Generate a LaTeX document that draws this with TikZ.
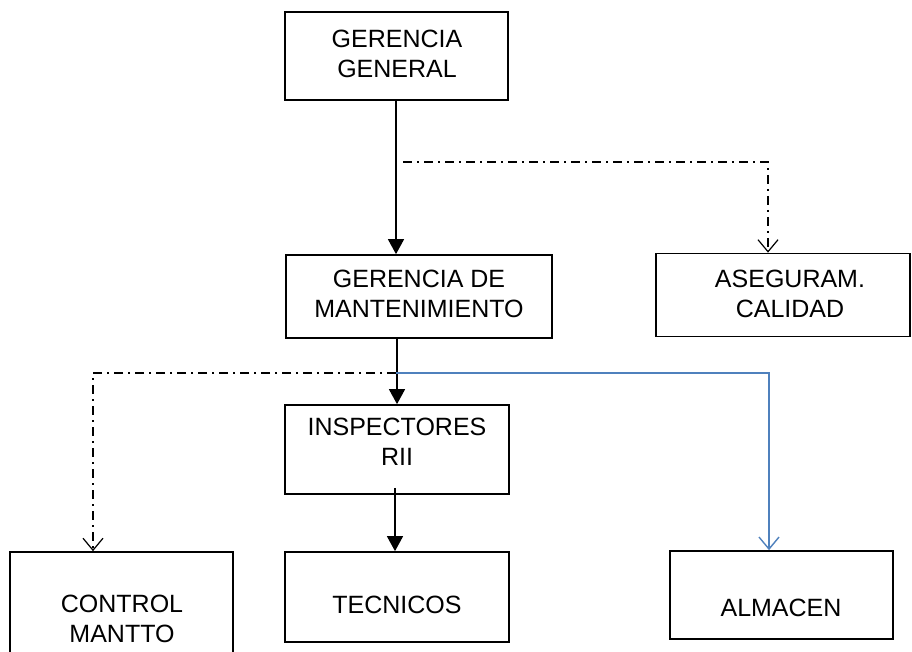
\documentclass[tikz,border=0pt]{standalone}
\usepackage{fontspec}
\setmainfont{Liberation Sans}
\usetikzlibrary{arrows.meta}
\definecolor{lineblue}{RGB}{79,129,189}
\begin{document}
\begin{tikzpicture}[x=1pt,y=-1pt,
  box/.style={draw=black,line width=1.7pt,rectangle,inner sep=0pt},
  lbl/.style={align=center,font=\fontsize{25}{29.5}\selectfont,inner sep=0pt},
  solidarr/.style={draw=black,line width=1.4pt,-{Triangle[width=16pt,length=15pt]}},
  dasharr/.style={draw=black,line width=1.3pt,dash pattern=on 9pt off 5pt on 2pt off 5pt,-{Straight Barb[width=20pt,length=12pt,line width=1.2pt]}},
  bluearr/.style={draw=lineblue,line width=1.4pt,-{Straight Barb[width=20pt,length=12pt,line width=1.4pt]}}
]
\useasboundingbox (0,0) rectangle (912,652);
\fill[white] (0,0) rectangle (912,652);
% boxes
\node[box,minimum width=223pt,minimum height=88pt] (gg) at (396.5,56) {};
\node[lbl] (ggt) at (397,54) {GERENCIA\\GENERAL};
\node[box,minimum width=266pt,minimum height=83pt] (gm) at (419,296.5) {};
\node[lbl] (gmt) at (419,294) {GERENCIA DE\\MANTENIMIENTO};
\node[box,minimum width=254pt,minimum height=83pt] (ac) at (783,295) {};
\node[lbl] (act) at (790,294) {ASEGURAM.\\CALIDAD};
\node[box,minimum width=224pt,minimum height=89pt] (ins) at (397,449.5) {};
\node[lbl] (inst) at (397,442) {INSPECTORES\\RII};
\node[box,minimum width=223pt,minimum height=120pt] (cm) at (121.5,612) {};
\node[lbl] (cmt) at (122,619) {CONTROL\\MANTTO};
\node[box,minimum width=224pt,minimum height=90pt] (tec) at (397,597) {};
\node[lbl] (tect) at (397,605) {TECNICOS};
\node[box,minimum width=223pt,minimum height=88pt] (alm) at (781.5,595) {};
\node[lbl] (almt) at (781,608) {ALMACEN};
% junction coordinates
\coordinate (j1) at (403,162);
\coordinate (j1r) at (768,162);
\coordinate (j2) at (396,373);
\coordinate (j2l) at (93,373);
\coordinate (j2r) at (769,373);
% connectors
\draw[solidarr] (gg.south -| 396,0) -- (gm.north -| 396,0);
\draw[dasharr] (j1) -- (j1r) -- (ac.north -| j1r);
\draw[solidarr] (gm.south -| 397,0) -- (ins.north -| 397,0);
\draw[dasharr] (j2) -- (j2l) -- (cm.north -| j2l);
\draw[bluearr] (j2) -- (j2r) -- (alm.north -| j2r);
\draw[solidarr] ([yshift=7pt]ins.south -| 395,0) -- (tec.north -| 395,0);
\end{tikzpicture}
\end{document}
